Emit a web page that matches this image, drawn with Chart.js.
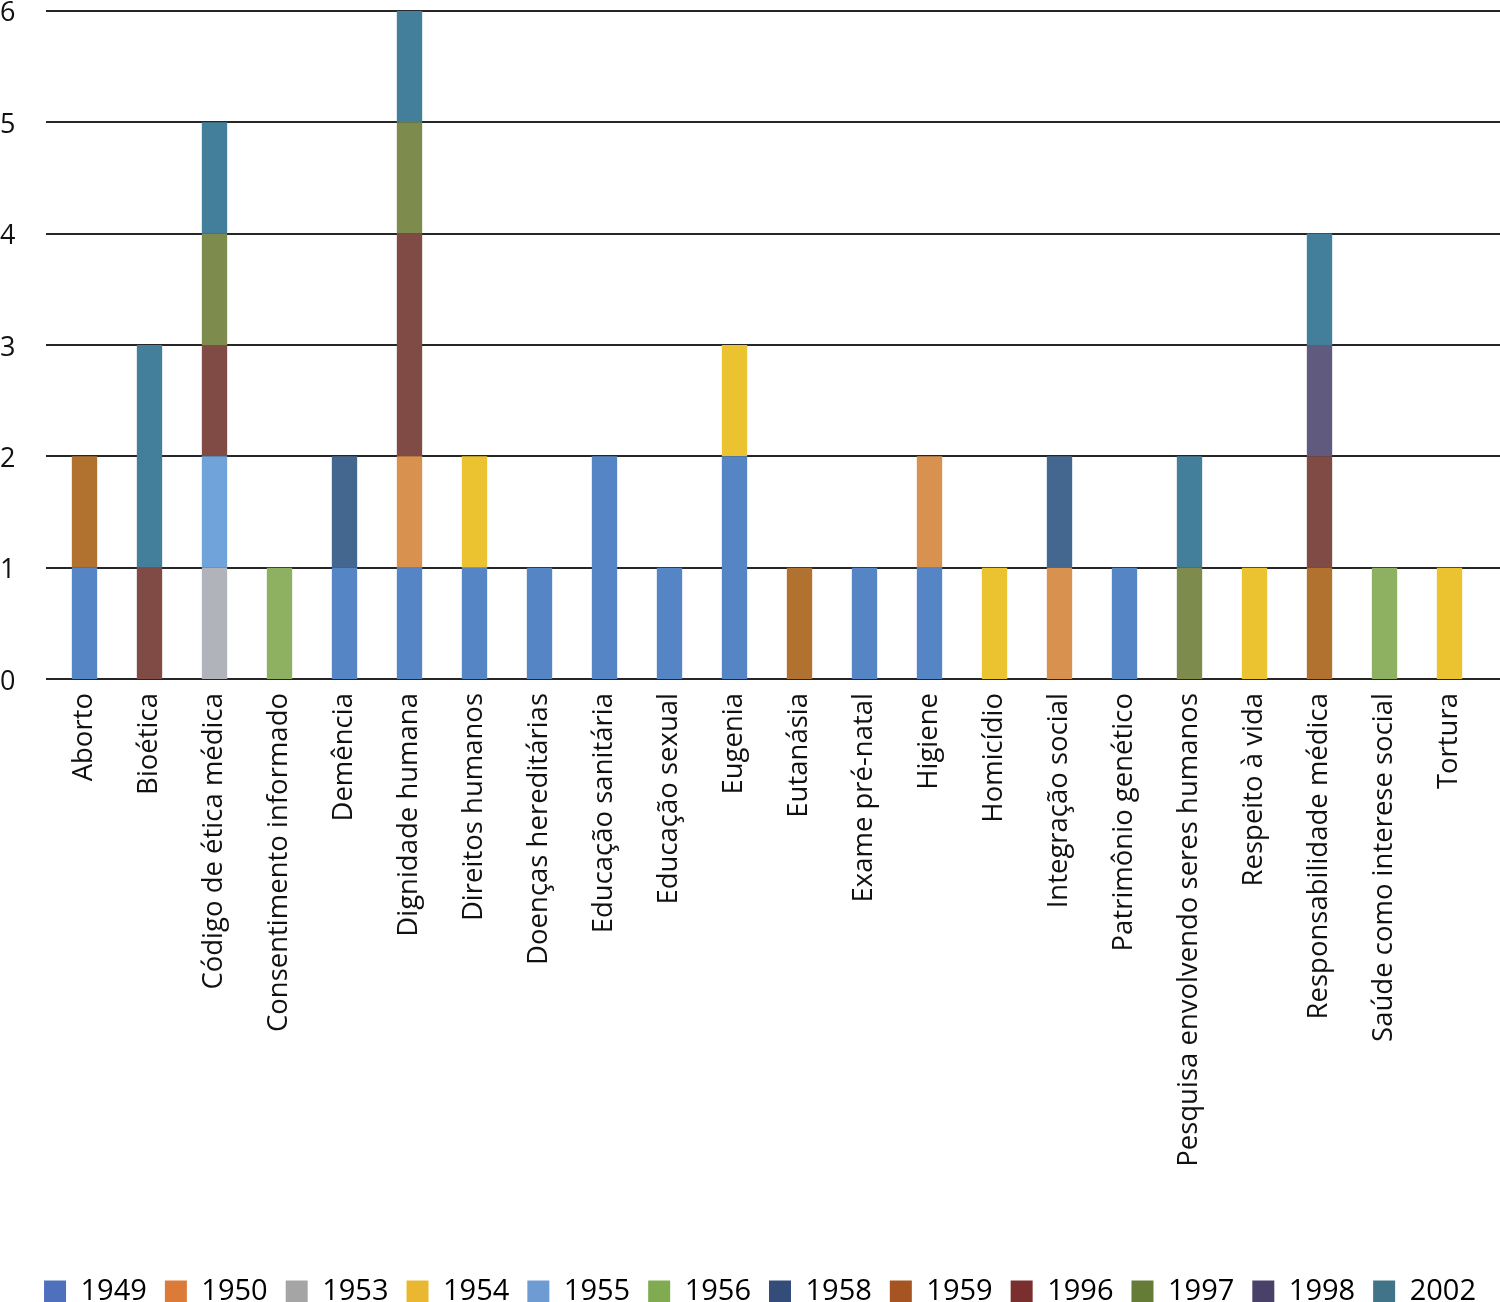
<!DOCTYPE html>
<html>
<head>
<meta charset="utf-8">
<script src="https://cdn.jsdelivr.net/npm/chart.js@4.4.1/dist/chart.umd.min.js"></script>
<style>
  html, body { margin: 0; padding: 0; background: #fff; }
  #wrap { width: 1500px; height: 1302px; position: relative; }
</style>
</head>
<body>
<div id="wrap"><canvas id="temasChart"></canvas></div>
<script>
// categorias (temas)
const temas = [
  "Aborto", "Bioética", "Código de ética médica", "Consentimento informado",
  "Demência", "Dignidade humana", "Direitos humanos", "Doenças hereditárias",
  "Educação sanitária", "Educação sexual", "Eugenia", "Eutanásia",
  "Exame pré-natal", "Higiene", "Homicídio", "Integração social",
  "Patrimônio genético", "Pesquisa envolvendo seres humanos", "Respeito à vida",
  "Responsabilidade médica", "Saúde como interese social", "Tortura"
];

const anos = ["1949", "1950", "1953", "1954", "1955", "1956", "1958", "1959", "1996", "1997", "1998", "2002"];

// one array per year, same order as temas
const v1949 = [1, 0, 0, 0, 1, 1, 1, 1, 2, 1, 2, 0, 1, 1, 0, 0, 1, 0, 0, 0, 0, 0];
const v1950 = [0, 0, 0, 0, 0, 1, 0, 0, 0, 0, 0, 0, 0, 1, 0, 1, 0, 0, 0, 0, 0, 0];
const v1953 = [0, 0, 1, 0, 0, 0, 0, 0, 0, 0, 0, 0, 0, 0, 0, 0, 0, 0, 0, 0, 0, 0];
const v1954 = [0, 0, 0, 0, 0, 0, 1, 0, 0, 0, 1, 0, 0, 0, 1, 0, 0, 0, 1, 0, 0, 1];
const v1955 = [0, 0, 1, 0, 0, 0, 0, 0, 0, 0, 0, 0, 0, 0, 0, 0, 0, 0, 0, 0, 0, 0];
const v1956 = [0, 0, 0, 1, 0, 0, 0, 0, 0, 0, 0, 0, 0, 0, 0, 0, 0, 0, 0, 0, 1, 0];
const v1958 = [0, 0, 0, 0, 1, 0, 0, 0, 0, 0, 0, 0, 0, 0, 0, 1, 0, 0, 0, 0, 0, 0];
const v1959 = [1, 0, 0, 0, 0, 0, 0, 0, 0, 0, 0, 1, 0, 0, 0, 0, 0, 0, 0, 1, 0, 0];
const v1996 = [0, 1, 1, 0, 0, 2, 0, 0, 0, 0, 0, 0, 0, 0, 0, 0, 0, 0, 0, 1, 0, 0];
const v1997 = [0, 0, 1, 0, 0, 1, 0, 0, 0, 0, 0, 0, 0, 0, 0, 0, 0, 1, 0, 0, 0, 0];
const v1998 = [0, 0, 0, 0, 0, 0, 0, 0, 0, 0, 0, 0, 0, 0, 0, 0, 0, 0, 0, 1, 0, 0];
const v2002 = [0, 2, 1, 0, 0, 1, 0, 0, 0, 0, 0, 0, 0, 0, 0, 0, 0, 1, 0, 1, 0, 0];

const valores = [v1949, v1950, v1953, v1954, v1955, v1956, v1958, v1959, v1996, v1997, v1998, v2002];

const yTicks = [0, 1, 2, 3, 4, 5, 6];

// bar fills look a bit washed out compared with the legend swatches
const coresBarra = ["#5585C5", "#D9914F", "#B1B3BB", "#EBC22F", "#6FA3DA", "#8DB061",
                    "#43678F", "#B0722E", "#804B44", "#7D8B4C", "#5F5A7E", "#437E9A"];
const coresLegenda = ["#4E70BD", "#DC7A37", "#A5A5A5", "#EAB830", "#6E9BD2", "#81AB51",
                      "#344C7A", "#A55422", "#7A2E2E", "#647C35", "#4A4168", "#417488"];

const fonte = "'Open Sans', 'DejaVu Sans', sans-serif";

// horizontal grid lines run a little wider than the category band
const gradePlugin = {
  id: "grade",
  afterLayout(chart) {
    // legend sits a bit right of centre in the original
    chart.legend.left += 19;
    chart.legend.right += 19;
  },
  beforeDatasetsDraw(chart) {
    const ctx = chart.ctx;
    const y = chart.scales.y;
    ctx.save();
    ctx.strokeStyle = "#262626";
    ctx.lineWidth = 2;
    yTicks.forEach(t => {
      const py = Math.round(y.getPixelForValue(t));
      ctx.beginPath();
      ctx.moveTo(46, py);
      ctx.lineTo(chart.width, py);
      ctx.stroke();
    });
    ctx.restore();
  }
};

const ctx = document.getElementById("temasChart");
const temasChart = new Chart(ctx, {
  type: "bar",
  data: {
    labels: temas,
    datasets: anos.map((ano, i) => ({
      label: ano,
      data: valores[i],
      backgroundColor: coresBarra[i],
      borderWidth: 0,
      barPercentage: 0.39,
      categoryPercentage: 1.0,
    })),
  },
  options: {
    responsive: true,
    maintainAspectRatio: false,
    animation: false,
    layout: {
      padding: { top: 0, right: 18, bottom: -14, left: 0 },
    },
    plugins: {
      legend: {
        position: "bottom",
        labels: {
          boxWidth: 22,
          boxHeight: 22,
          padding: 18,
          color: "#111",
          font: { family: fonte, size: 29 },
          generateLabels(chart) {
            return chart.data.datasets.map((ds, i) => ({
              text: ds.label,
              fillStyle: coresLegenda[i],
              strokeStyle: coresLegenda[i],
              lineWidth: 0,
              datasetIndex: i,
              hidden: false,
            }));
          },
        },
      },
      tooltip: { enabled: false },
    },
    scales: {
      x: {
        stacked: true,
        grid: { display: false, drawTicks: false },
        border: { display: false },
        ticks: {
          autoSkip: false,
          minRotation: 90,
          maxRotation: 90,
          padding: 14,
          color: "#111",
          font: { family: fonte, size: 27.5 },
        },
        afterFit(scale) {
          scale.height = 580;
        },
      },
      y: {
        stacked: true,
        min: 0,
        max: 6,
        grid: { display: false, drawTicks: false },
        border: { display: false },
        afterBuildTicks(scale) {
          scale.ticks = yTicks.map(v => ({ value: v }));
        },
        ticks: {
          padding: 0,
          crossAlign: "far",
          labelOffset: 3,
          color: "#111",
          font: { family: fonte, size: 27, lineHeight: 0.8 },
        },
        afterFit(scale) {
          scale.width = 52;
        },
      },
    },
  },
  plugins: [gradePlugin],
});
</script>
</body>
</html>
